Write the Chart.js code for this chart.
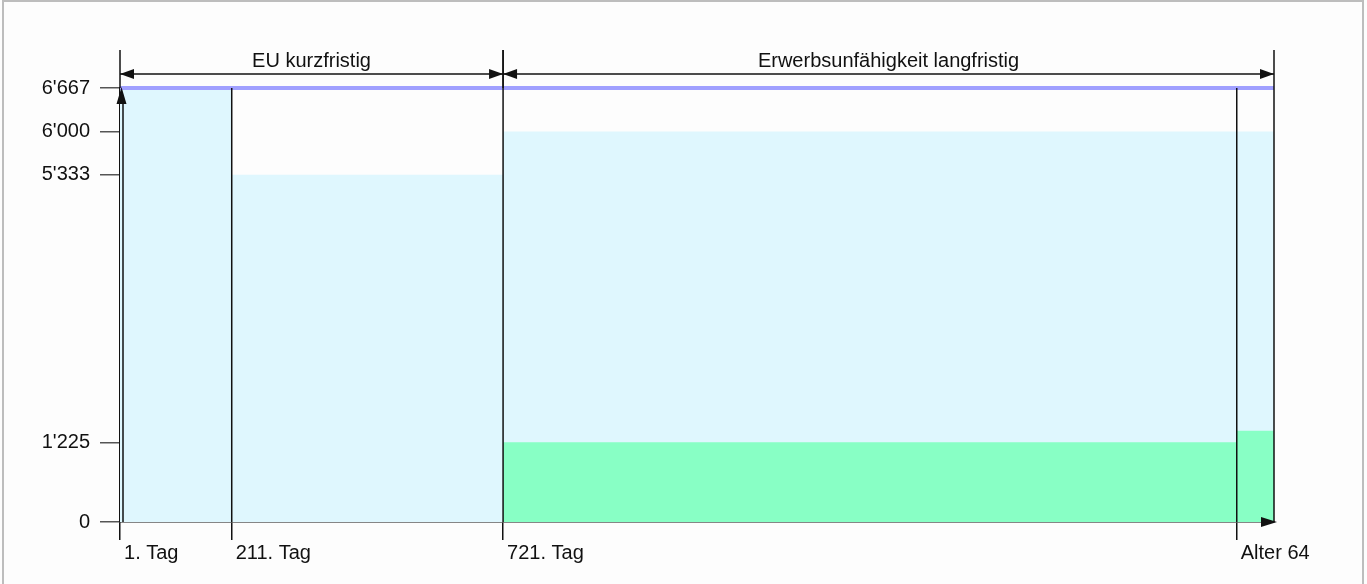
<!DOCTYPE html>
<html>
<head>
<meta charset="utf-8">
<title>Erwerbsunfähigkeit</title>
<script src="https://cdn.jsdelivr.net/npm/chart.js@4.4.1/dist/chart.umd.min.js"></script>
<style>
  html, body { margin: 0; padding: 0; background: #fdfdfd; overflow: hidden; }
  #frame { position: absolute; left: 2px; top: 0; width: 1358px; height: 620px; border: 2px solid #bdbdbd; }
  #wrap { position: absolute; left: 0; top: 0; width: 1367px; height: 584px; }
</style>
</head>
<body>
<div id="frame"></div>
<div id="wrap"><canvas id="chart"></canvas></div>
<script>
// x axis: days since start of incapacity
const dayTicks = [1, 211, 721, 2100];
const dayLabels = ['1. Tag', '211. Tag', '721. Tag', 'Alter 64'];
const lastDay = 2170;

// y axis: monthly amounts
const yTicks = [0, 1225, 5333, 6000, 6667];
const salary = 6667;

// light blue area: covered income
const coverDays = [1, 211, 721, lastDay];
const coverValues = [6667, 5333, 6000, 6000];

// green area
const bvgDays = [721, 2100, lastDay];
const bvgValues = [1225, 1400, 1400];

const phases = [
    { from: 1, to: 721, label: 'EU kurzfristig' },
    { from: 721, to: lastDay, label: 'Erwerbsunfähigkeit langfristig' }
];
const dividers = [211, 721, 2100, lastDay];

const font = { family: '"Liberation Sans", Arial, sans-serif', size: 20 };
const ink = '#111';

function fmt(v) {
    return String(v).replace(/\B(?=(\d{3})+(?!\d))/g, "'");
}

function toPoints(xs, ys) {
    return xs.map((x, i) => ({ x: x, y: ys[i] }));
}

function line(ctx, x1, y1, x2, y2) {
    ctx.beginPath();
    ctx.moveTo(x1, y1);
    ctx.lineTo(x2, y2);
    ctx.stroke();
}

// triangle with its tip at (x, y), pointing along (dx, dy)
function head(ctx, x, y, dx, dy, len, half) {
    ctx.beginPath();
    ctx.moveTo(x, y);
    ctx.lineTo(x - dx * len - dy * half, y - dy * len - dx * half);
    ctx.lineTo(x - dx * len + dy * half, y - dy * len + dx * half);
    ctx.closePath();
    ctx.fill();
}

const markup = {
    id: 'markup',
    afterDatasetsDraw(chart) {
        const ctx = chart.ctx;
        const xs = chart.scales.x;
        const ys = chart.scales.y;
        const top = ys.getPixelForValue(salary);
        const bottom = ys.getPixelForValue(0);
        const left = chart.chartArea.left;
        const right = chart.chartArea.right;
        const dimY = top - 14;
        const markTop = top - 38;

        ctx.save();
        ctx.strokeStyle = ink;
        ctx.fillStyle = ink;
        ctx.lineWidth = 1.5;

        dividers.forEach(d => {
            const px = xs.getPixelForValue(d);
            line(ctx, px, top, px, bottom);
        });

        ctx.font = font.size + 'px ' + font.family;
        ctx.textAlign = 'center';
        ctx.textBaseline = 'alphabetic';
        phases.forEach(p => {
            const a = xs.getPixelForValue(p.from);
            const b = xs.getPixelForValue(p.to);
            line(ctx, a, markTop, a, top);
            line(ctx, b, markTop, b, top);
            line(ctx, a, dimY, b, dimY);
            head(ctx, a, dimY, -1, 0, 14, 5);
            head(ctx, b, dimY, 1, 0, 14, 5);
            ctx.fillText(p.label, (a + b) / 2, dimY - 7);
        });

        // axis arrows
        line(ctx, left + 3, bottom, left + 3, top + 10);
        head(ctx, left + 1.5, top - 1, 0, -1, 17, 5);
        head(ctx, right + 3, bottom, 1, 0, 16, 5);
        ctx.restore();
    }
};

// datasets with a lower index are drawn on top
new Chart(document.getElementById('chart'), {
    type: 'line',
    data: {
        datasets: [{
            label: 'Lohn',
            data: toPoints([1, lastDay], [salary, salary]),
            fill: false,
            borderColor: '#a0a0ff',
            borderWidth: 4,
            pointRadius: 0,
            clip: false
        }, {
            label: 'BVG',
            data: toPoints(bvgDays, bvgValues),
            stepped: 'before',
            fill: 'origin',
            backgroundColor: '#88ffc5',
            borderColor: 'rgba(0,0,0,0)',
            borderWidth: 0,
            pointRadius: 0
        }, {
            label: 'Einkommen',
            data: toPoints(coverDays, coverValues),
            stepped: 'before',
            fill: 'origin',
            backgroundColor: '#dff7fe',
            borderColor: 'rgba(0,0,0,0)',
            borderWidth: 0,
            pointRadius: 0
        }]
    },
    options: {
        responsive: true,
        maintainAspectRatio: false,
        animation: false,
        layout: { padding: { top: 88, right: 93, left: 0, bottom: 0 } },
        plugins: {
            legend: { display: false },
            tooltip: { enabled: false }
        },
        scales: {
            x: {
                type: 'linear',
                min: 1,
                max: lastDay,
                afterBuildTicks: s => { s.ticks = dayTicks.map(v => ({ value: v })); },
                afterFit: s => { s.height = 62; },
                ticks: {
                    callback: (v, i) => '\u2009' + dayLabels[i],
                    align: 'start',
                    autoSkip: false,
                    maxRotation: 0,
                    padding: 1,
                    font: font,
                    color: ink
                },
                grid: { drawOnChartArea: false, tickLength: 18, color: ink, lineWidth: 1.5 },
                border: { color: ink, width: 1.5 }
            },
            y: {
                min: 0,
                max: salary,
                afterBuildTicks: s => { s.ticks = yTicks.map(v => ({ value: v })); },
                afterFit: s => { s.width = 120; },
                ticks: {
                    callback: v => fmt(v),
                    padding: 10,
                    font: font,
                    color: ink
                },
                grid: { drawOnChartArea: false, tickLength: 20, color: '#555', lineWidth: 1.5 },
                border: { color: ink, width: 1.5 }
            }
        }
    },
    plugins: [markup]
});
</script>
</body>
</html>
